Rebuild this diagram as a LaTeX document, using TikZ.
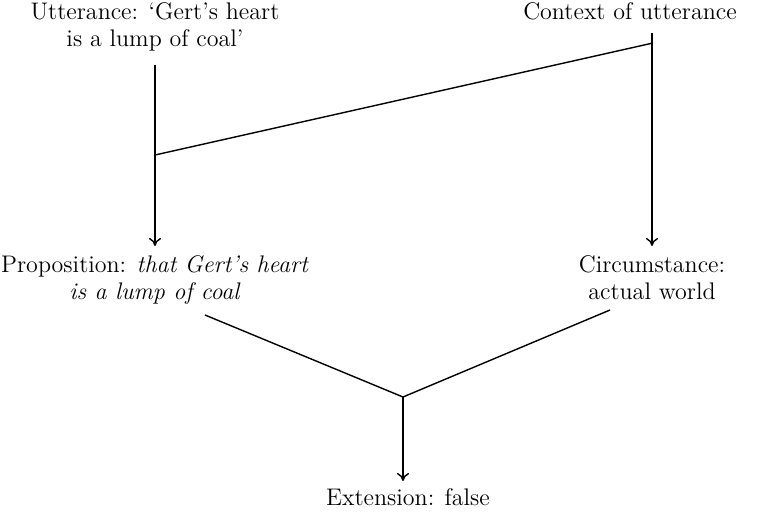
\documentclass[tikz,border=0pt]{standalone}
\usepackage{tikz}
\usetikzlibrary{arrows.meta,positioning,calc}

\begin{document}
\begin{tikzpicture}[x=.5pt,y=.5pt,
  lbl/.style={align=center,inner sep=0pt,outer sep=0pt,font=\fontsize{12}{13.5}\selectfont},
  link/.style={line width=.7pt},
  down/.style={link,-{To[length=4pt,width=6pt]}}]
\useasboundingbox (0,0) rectangle (765,516);
\node[lbl,anchor=north] (utt) at (155,513) {Utterance: `Gert's heart\\is a lump of coal'};
\node[lbl,anchor=north] (ctx) at (630,513) {Context of utterance};
\node[lbl,anchor=north] (prop) at (155,260) {Proposition: \textit{that Gert's heart}\\\textit{is a lump of coal}};
\node[lbl,anchor=north] (circ) at (652,260) {Circumstance:\\actual world};
\node[lbl,anchor=north] (ext) at (408,27) {Extension: false};
\coordinate (uttjoin) at (155,361);
\coordinate (ctxjoin) at (653,473);
\coordinate (propfoot) at (205,201);
\coordinate (circfoot) at (610,206);
\coordinate (meet) at (403,119);
% utterance and context give the proposition and the circumstance
\draw[down,shorten <=6.5pt,shorten >=5pt] (utt.south) -- (prop.north);
\draw[down,shorten >=5pt] ($(ctx.south -| circ.north)+(0,-13)$) -- (circ.north);
\draw[link] (uttjoin) -- (ctxjoin);
% both together give the extension
\draw[link] (propfoot) -- (meet) -- (circfoot);
\draw[down,shorten >=4pt] (meet) -- (meet |- ext.north);
\end{tikzpicture}
\end{document}
